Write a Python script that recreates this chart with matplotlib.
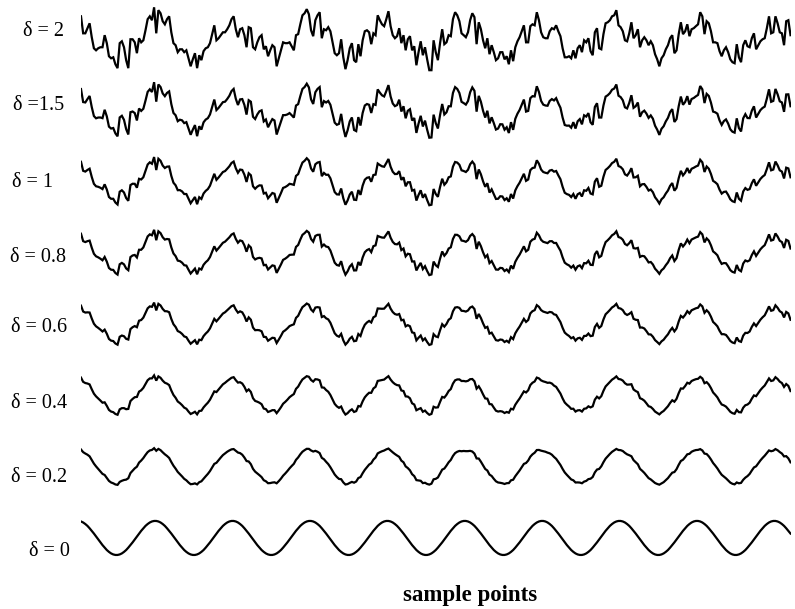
import matplotlib.pyplot as plt
import numpy as np

# noise strength of each trace, bottom to top
deltas = [0, 0.2, 0.4, 0.6, 0.8, 1, 1.5, 2]
labels = ["δ = 0", "δ = 0.2", "δ = 0.4", "δ = 0.6", "δ = 0.8", "δ = 1", "δ =1.5", "δ = 2"]

# noise-free signal at each sample point
clean = [
    0.97, 0.91, 0.82, 0.71, 0.57, 0.42, 0.26, 0.09, -0.09, -0.26, -0.42, -0.57,
    -0.71, -0.82, -0.91, -0.97, -1.0, -1.0, -0.97, -0.91, -0.82, -0.71, -0.57, -0.42,
    -0.26, -0.09, 0.09, 0.26, 0.42, 0.57, 0.71, 0.82, 0.91, 0.97, 1.0, 1.0,
    0.97, 0.91, 0.82, 0.71, 0.57, 0.42, 0.26, 0.09, -0.09, -0.26, -0.42, -0.57,
    -0.71, -0.82, -0.91, -0.97, -1.0, -1.0, -0.97, -0.91, -0.82, -0.71, -0.57, -0.42,
    -0.26, -0.09, 0.09, 0.26, 0.42, 0.57, 0.71, 0.82, 0.91, 0.97, 1.0, 1.0,
    0.97, 0.91, 0.82, 0.71, 0.57, 0.42, 0.26, 0.09, -0.09, -0.26, -0.42, -0.57,
    -0.71, -0.82, -0.91, -0.97, -1.0, -1.0, -0.97, -0.91, -0.82, -0.71, -0.57, -0.42,
    -0.26, -0.09, 0.09, 0.26, 0.42, 0.57, 0.71, 0.82, 0.91, 0.97, 1.0, 1.0,
    0.97, 0.91, 0.82, 0.71, 0.57, 0.42, 0.26, 0.09, -0.09, -0.26, -0.42, -0.57,
    -0.71, -0.82, -0.91, -0.97, -1.0, -1.0, -0.97, -0.91, -0.82, -0.71, -0.57, -0.42,
    -0.26, -0.09, 0.09, 0.26, 0.42, 0.57, 0.71, 0.82, 0.91, 0.97, 1.0, 1.0,
    0.97, 0.91, 0.82, 0.71, 0.57, 0.42, 0.26, 0.09, -0.09, -0.26, -0.42, -0.57,
    -0.71, -0.82, -0.91, -0.97, -1.0, -1.0, -0.97, -0.91, -0.82, -0.71, -0.57, -0.42,
    -0.26, -0.09, 0.09, 0.26, 0.42, 0.57, 0.71, 0.82, 0.91, 0.97, 1.0, 1.0,
    0.97, 0.91, 0.82, 0.71, 0.57, 0.42, 0.26, 0.09, -0.09, -0.26, -0.42, -0.57,
    -0.71, -0.82, -0.91, -0.97, -1.0, -1.0, -0.97, -0.91, -0.82, -0.71, -0.57, -0.42,
    -0.26, -0.09, 0.09, 0.26, 0.42, 0.57, 0.71, 0.82, 0.91, 0.97, 1.0, 1.0,
    0.97, 0.91, 0.82, 0.71, 0.57, 0.42, 0.26, 0.09, -0.09, -0.26, -0.42, -0.57,
    -0.71, -0.82, -0.91, -0.97, -1.0, -1.0, -0.97, -0.91, -0.82, -0.71, -0.57, -0.42,
    -0.26, -0.09, 0.09, 0.26, 0.42, 0.57, 0.71, 0.82, 0.91, 0.97, 1.0, 1.0,
    0.97, 0.91, 0.82, 0.71, 0.57, 0.42, 0.26, 0.09, -0.09, -0.26, -0.42, -0.57,
    -0.71, -0.82, -0.91, -0.97, -1.0, -1.0, -0.97, -0.91, -0.82, -0.71, -0.57, -0.42,
    -0.26, -0.09, 0.09, 0.26, 0.42, 0.57, 0.71, 0.82, 0.91, 0.97, 1.0, 1.0,
    0.97, 0.91, 0.82, 0.71, 0.57, 0.42, 0.26, 0.09, -0.09, -0.26, -0.42, -0.57,
    -0.71, -0.82, -0.91, -0.97, -1.0, -1.0, -0.97, -0.91, -0.82, -0.71, -0.57, -0.42,
    -0.26, -0.09, 0.09, 0.26, 0.42, 0.57, 0.71, 0.82, 0.91, 0.97, 1.0, 1.0,
    0.97, 0.91, 0.82, 0.71, 0.57, 0.42, 0.26,
]

# the delta = 2 trace; the noise of every other trace is a scaled copy
top = [
    1.29, 0.29, 0.29, 0.59, 0.88, 0.06, -0.59, -0.71, -0.59, -0.53,
    -0.53, 0.18, -0.29, -1.06, -1.18, -1.12, -1.53, -1.76, -0.29, -0.18,
    -0.53, -1.29, -1.76, -0.06, -0.06, -0.24, -0.88, 0.0, -0.24, -0.12,
    0.47, 1.12, 1.29, 1.06, 1.82, 0.29, 1.65, 1.47, 1.0, 0.82,
    1.12, 1.29, 0.35, -0.29, -0.41, -0.82, -0.65, -0.65, -0.82, -0.71,
    -1.18, -1.65, -1.24, -0.88, -1.76, -1.0, -1.29, -0.76, -0.59, -0.53,
    -0.29, 0.24, 0.76, -0.12, 0.0, 0.18, 0.35, 0.35, 0.53, 0.76,
    1.12, 1.29, 0.53, 0.06, 0.53, 0.59, 0.18, -0.53, 0.65, 0.59,
    -0.53, -0.65, -0.24, 0.06, 0.18, -0.65, -0.47, -1.06, -0.71, -0.41,
    -0.53, -1.65, -1.18, -0.71, -0.24, -0.29, -0.29, -0.24, -0.47, -0.71,
    0.18, 0.24, 0.82, 1.35, 1.47, 1.71, 1.41, 0.47, 0.12, 1.06,
    1.35, 1.53, 0.0, 0.53, 0.47, 0.65, 0.41, -0.24, -0.88, -1.0,
    -0.88, -0.06, -1.12, -1.82, -1.29, -0.59, -0.29, -1.29, -1.41, -0.35,
    -1.06, -0.12, 0.41, 0.47, 0.35, -0.35, 0.29, 0.18, 1.35, 1.06,
    0.82, 0.71, 1.12, 1.59, 0.71, 0.18, 0.0, 0.12, 0.59, -0.29,
    0.18, -0.71, -0.06, 0.12, -0.71, -0.47, -1.59, -0.82, -0.18, -1.0,
    -0.53, -1.24, -1.88, -1.88, -0.12, -0.82, -1.29, -0.29, 0.53, -0.35,
    -0.24, 0.18, 0.12, 1.12, 1.53, 1.35, 1.0, 0.29, 0.18, 0.06,
    0.35, 1.06, 1.47, 1.24, -0.35, 0.94, 0.53, -0.12, -0.59, 0.0,
    -0.94, -0.41, -0.82, -1.29, -1.18, -0.82, -0.82, -1.24, -1.06, -1.53,
    -0.71, -1.35, -0.53, -0.18, 0.06, 0.41, 0.76, -0.24, -0.24, 0.71,
    0.82, 0.76, 1.53, 1.06, 0.35, 0.06, 0.0, 0.0, 0.41, 0.59,
    0.53, 0.76, 0.41, 0.12, -0.59, -1.12, -1.12, -1.06, -1.18, -0.71,
    -1.18, -0.59, -0.41, -0.82, -0.12, -0.24, 0.0, -0.76, -1.0, 0.35,
    0.59, -0.59, -0.65, 0.24, 0.88, 0.94, 1.06, 1.29, 1.35, 1.65,
    0.76, 0.65, 0.41, -0.12, -0.18, 0.29, 0.94, 0.0, 0.18, 0.53,
    -0.53, -0.12, 0.06, -0.12, -0.41, -0.18, -0.41, -0.94, -1.24, -1.65,
    -1.18, -1.0, -0.65, -0.41, 0.0, 0.18, -0.88, -0.71, 0.24, 0.94,
    0.24, 0.41, 0.82, 0.12, 0.53, 0.59, 0.71, 0.82, 1.53, 1.29,
    0.24, 1.0, 0.88, 0.41, -0.24, -0.24, -0.29, -0.76, -1.06, -0.71,
    -0.53, -0.82, -1.24, -1.41, -1.47, -0.35, -1.12, -1.41, -0.41, -0.12,
    -0.47, -0.53, 0.0, 0.29, -0.65, -0.41, -0.18, -0.06, 0.0, 0.59,
    1.29, 0.29, 0.35, 1.29, 0.88, 0.35, 0.29, -0.41, 1.0, 1.06,
    0.18,
]

clean = np.array(clean)
top = np.array(top)
noise = (top - clean) / 2
samples = np.arange(len(clean))

fig = plt.figure(figsize=(7.95, 6.09), dpi=100)
ax = fig.add_axes([81 / 795, 0, 709.5 / 795, 1])
ax.set_xlim(0, len(clean) - 1)
ax.set_ylim(-4.18, 31.65)
ax.axis('off')

gap = 4.2
for i, d in enumerate(deltas):
    ax.plot(samples, clean + d * noise + gap * i, color='black', lw=1.6,
            solid_joinstyle='miter')

# label placement: right edge and vertical centre, in pixels from the top left
label_x = [70, 67, 67, 67, 66, 53, 64, 64]
label_y = [551, 477, 404, 328, 257, 182, 106, 31]
for text, lx, ly in zip(labels, label_x, label_y):
    fig.text(lx / 795, 1 - ly / 609, text, ha='right', va='center',
             fontsize=14.5, family='Liberation Serif')

fig.text(470 / 795, 1 - 595 / 609, "sample points", ha='center', va='center',
         fontsize=16.5, fontweight='bold', family='Liberation Serif')

fig.savefig('out.png', dpi=100)
